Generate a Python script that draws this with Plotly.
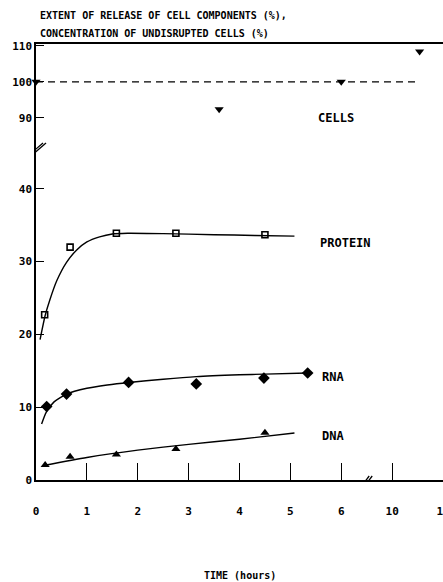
import plotly.graph_objects as go

# ---- data (time in hours, values in %) ----
protein_t = [0.17, 0.67, 1.58, 2.75, 4.5]
protein_v = [22.7, 32.0, 33.9, 33.9, 33.7]
protein_fit_t = [0.08, 0.18, 0.27, 0.41, 0.6, 0.8, 1.0, 1.25, 1.5, 1.8, 2.5, 3.5, 4.3, 5.08]
protein_fit_v = [19.3, 22.6, 24.7, 27.4, 29.9, 31.6, 32.7, 33.4, 33.8, 33.9, 33.85, 33.7, 33.6, 33.5]

rna_t = [0.21, 0.6, 1.82, 3.15, 4.48, 5.34]
rna_v = [10.1, 11.8, 13.4, 13.2, 14.0, 14.7]
rna_fit_t = [0.11, 0.2, 0.35, 0.6, 1.0, 1.4, 1.82, 2.5, 3.15, 4.0, 4.5, 5.34]
rna_fit_v = [7.7, 9.3, 10.7, 11.8, 12.6, 13.05, 13.4, 13.85, 14.2, 14.45, 14.55, 14.7]

dna_t = [0.18, 0.67, 1.58, 2.75, 4.5]
dna_v = [2.06, 3.2, 3.5, 4.26, 6.5]
dna_fit_t = [0.15, 1.0, 2.0, 3.0, 4.0, 5.08]
dna_fit_v = [2.0, 3.1, 4.1, 4.9, 5.6, 6.45]

cells_t = [0.0, 3.6, 6.0, 10.54]
cells_v = [100.0, 92.4, 100.0, 108.4]
cells_ref_t = [0.0, 10.5]
cells_ref_v = [100.0, 100.0]

x_ticks = [0, 1, 2, 3, 4, 5, 6, 10, 11]
y_ticks = [0, 10, 20, 30, 40, 90, 100, 110]


# ---- broken-axis mapping (axis break between 6 and 10 h, and between 40 and 90 %) ----
def xd(t):
    return t if t <= 6.5 else 7 + (t - 10)


def yd(v):
    return v if v <= 50 else 54.71 + 0.4948 * (v - 100)


def X(a):
    return [xd(t) for t in a]


def Y(a):
    return [yd(v) for v in a]


FONT = "DejaVu Sans Mono"
fig = go.Figure()

line = dict(color="black", width=1.4)

fig.add_trace(go.Scatter(x=X(cells_ref_t), y=Y(cells_ref_v), mode="lines",
                         line=dict(color="black", width=1.3, dash="7px,5px"),
                         hoverinfo="skip", showlegend=False))
for ft, fv in [(protein_fit_t, protein_fit_v), (rna_fit_t, rna_fit_v), (dna_fit_t, dna_fit_v)]:
    fig.add_trace(go.Scatter(x=X(ft), y=Y(fv), mode="lines",
                             line=dict(shape="spline", smoothing=0.6, **line),
                             showlegend=False, hoverinfo="skip"))

fig.add_trace(go.Scatter(x=X(protein_t), y=Y(protein_v), mode="markers", name="PROTEIN",
                         marker=dict(symbol="square-open", size=6, color="black",
                                     line=dict(width=1.6, color="black")),
                         showlegend=False, cliponaxis=False))
fig.add_trace(go.Scatter(x=X(rna_t), y=Y(rna_v), mode="markers", name="RNA",
                         marker=dict(symbol="diamond", size=9, color="black"),
                         showlegend=False, cliponaxis=False))
fig.add_trace(go.Scatter(x=X(dna_t), y=Y(dna_v), mode="markers", name="DNA",
                         marker=dict(symbol="triangle-up", size=8, color="black"),
                         showlegend=False, cliponaxis=False))
fig.add_trace(go.Scatter(x=X(cells_t), y=Y(cells_v), mode="markers", name="CELLS",
                         marker=dict(symbol="triangle-down", size=8, color="black"),
                         showlegend=False, cliponaxis=False))

fig.update_layout(
    width=443, height=582,
    margin=dict(l=36, r=0, t=44, b=102),
    paper_bgcolor="white", plot_bgcolor="white",
    font=dict(family=FONT, color="black", size=11),
    xaxis=dict(range=[0, 8], tickvals=X(x_ticks), ticktext=[str(t) for t in x_ticks],
               ticks="inside", ticklen=17, tickwidth=1.2, tickcolor="black",
               showline=True, linecolor="black", linewidth=1.5, mirror=True,
               showgrid=False, zeroline=False, ticklabelstandoff=20,
               ticklabeloverflow="allow", automargin=False,
               tickfont=dict(family=FONT, size=11, weight="bold")),
    yaxis=dict(range=[0, 59.9], tickvals=Y(y_ticks), ticktext=[str(v) for v in y_ticks],
               ticks="inside", ticklen=8, tickwidth=1.2, tickcolor="black",
               showline=True, linecolor="black", linewidth=1.5,
               showgrid=False, zeroline=False, automargin=False,
               tickfont=dict(family=FONT, size=11, weight="bold")),
)

# axis break marks
for dx in (0, 3):
    fig.add_shape(type="line", xref="x", yref="y", xsizemode="pixel", ysizemode="pixel",
                  xanchor=0, yanchor=45.6, x0=-6 + dx, x1=7 + dx, y0=-6, y1=5,
                  line=dict(color="black", width=1.3))
    fig.add_shape(type="line", xref="x", yref="y", xsizemode="pixel", ysizemode="pixel",
                  xanchor=6.51, yanchor=0, x0=-4 + dx, x1=2 + dx, y0=-4, y1=4,
                  line=dict(color="black", width=1.3))

labels = [("CELLS", 5.5, 49.73), ("PROTEIN", 5.54, 32.56), ("RNA", 5.58, 14.15), ("DNA", 5.58, 6.04)]
for txt, lx, ly in labels:
    fig.add_annotation(x=lx, y=ly, xref="x", yref="y", text=txt, showarrow=False,
                       xanchor="left", yanchor="middle",
                       font=dict(family=FONT, size=12, weight="bold"))

fig.add_annotation(x=0.005, y=1.0665, xref="paper", yref="paper",
                   text="EXTENT OF RELEASE OF CELL COMPONENTS (%),", showarrow=False,
                   xanchor="left", yanchor="middle", font=dict(family=FONT, size=10, weight="bold"))
fig.add_annotation(x=0.005, y=1.025, xref="paper", yref="paper",
                   text="CONCENTRATION OF UNDISRUPTED CELLS (%)", showarrow=False,
                   xanchor="left", yanchor="middle", font=dict(family=FONT, size=10, weight="bold"))
fig.add_annotation(x=0.5, y=-0.218, xref="paper", yref="paper", text="TIME (hours)",
                   showarrow=False, xanchor="center", yanchor="middle",
                   font=dict(family=FONT, size=10, weight="bold"))

fig.write_html("out.html", post_script="document.body.style.margin='0px';",
               config={"displayModeBar": False})
